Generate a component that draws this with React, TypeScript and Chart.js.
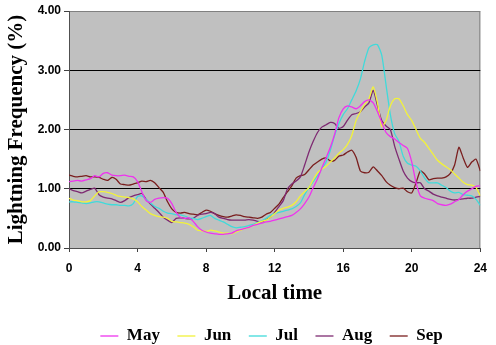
import React, { useEffect, useRef } from "react";
import { Chart, registerables } from "chart.js";

Chart.register(...registerables);

const hours: number[] = [
  0, 0.25, 0.5, 0.75, 1, 1.25, 1.5, 1.75, 2, 2.25, 2.5, 2.75, 3, 3.25, 3.5, 3.75,
  4, 4.25, 4.5, 4.75, 5, 5.25, 5.5, 5.75, 6, 6.25, 6.5, 6.75, 7, 7.25, 7.5, 7.75,
  8, 8.25, 8.5, 8.75, 9, 9.25, 9.5, 9.75, 10, 10.25, 10.5, 10.75, 11, 11.25, 11.5, 11.75,
  12, 12.25, 12.5, 12.75, 13, 13.25, 13.5, 13.75, 14, 14.25, 14.5, 14.75, 15, 15.25, 15.5, 15.75,
  16, 16.25, 16.5, 16.75, 17, 17.25, 17.5, 17.75, 18, 18.25, 18.5, 18.75, 19, 19.25, 19.5, 19.75,
  20, 20.25, 20.5, 20.75, 21, 21.25, 21.5, 21.75, 22, 22.25, 22.5, 22.75, 23, 23.25, 23.5, 23.75,
  24,
];

const may: number[] = [
  1.12, 1.13, 1.14, 1.13, 1.15, 1.17, 1.22, 1.2, 1.26, 1.27, 1.23, 1.22, 1.22, 1.23, 1.21, 1.2,
  1.12, 0.95, 0.8, 0.77, 0.82, 0.84, 0.85, 0.84, 0.75, 0.6, 0.52, 0.5, 0.51, 0.45, 0.36, 0.3,
  0.27, 0.25, 0.24, 0.23, 0.23, 0.24, 0.25, 0.29, 0.31, 0.33, 0.35, 0.38, 0.4, 0.42, 0.44, 0.45,
  0.47, 0.49, 0.51, 0.53, 0.55, 0.6, 0.66, 0.75, 0.86, 1.02, 1.17, 1.35, 1.52, 1.7, 1.92, 2.2,
  2.35, 2.4, 2.38, 2.35, 2.4, 2.47, 2.5, 2.45, 2.3, 2.12, 1.95, 1.88, 1.84, 1.78, 1.73, 1.68,
  1.45, 1.1, 0.88, 0.84, 0.82, 0.8, 0.75, 0.73, 0.72, 0.74, 0.78, 0.82, 0.9, 0.96, 1.0, 1.04,
  1.05,
];

const jun: number[] = [
  0.84, 0.81, 0.8, 0.78, 0.78, 0.8, 0.88, 0.95, 0.95, 0.94, 0.92, 0.89, 0.87, 0.86, 0.85, 0.83,
  0.78, 0.7, 0.64, 0.58, 0.55, 0.53, 0.52, 0.5, 0.45, 0.44, 0.43, 0.42, 0.4, 0.36, 0.3, 0.29,
  0.28, 0.3, 0.29, 0.27, 0.25, 0.25, 0.24, 0.27, 0.3, 0.33, 0.35, 0.38, 0.42, 0.45, 0.47, 0.52,
  0.58, 0.64, 0.67, 0.69, 0.72, 0.78, 0.88, 0.95, 1.02, 1.15, 1.27, 1.33, 1.38, 1.45, 1.52, 1.6,
  1.66, 1.75, 1.9, 2.15, 2.3, 2.42, 2.52, 2.72, 2.45, 2.05, 2.15, 2.4, 2.52, 2.52, 2.4, 2.25,
  2.15, 2.0, 1.85, 1.78, 1.68, 1.58, 1.48, 1.42, 1.37, 1.32, 1.25, 1.18, 1.11, 1.07, 1.06, 1.02,
  0.88,
];

const jul: number[] = [
  0.78, 0.78, 0.77, 0.76, 0.75, 0.76, 0.78, 0.78, 0.76, 0.74, 0.73, 0.73, 0.72, 0.72, 0.71, 0.75,
  0.87, 0.88, 0.82, 0.76, 0.7, 0.67, 0.62, 0.59, 0.58, 0.56, 0.56, 0.54, 0.51, 0.5, 0.48, 0.5,
  0.53, 0.55, 0.5, 0.47, 0.44, 0.4, 0.36, 0.34, 0.35, 0.36, 0.38, 0.4, 0.43, 0.46, 0.5, 0.55,
  0.58, 0.6, 0.62, 0.64, 0.66, 0.7, 0.76, 0.9, 1.02, 1.12, 1.22, 1.33, 1.45, 1.65, 1.9, 2.1,
  2.25, 2.35, 2.5, 2.65, 2.85, 3.15, 3.38, 3.43, 3.43, 3.25, 2.75, 2.25, 1.93, 1.8, 1.55, 1.43,
  1.4, 1.38, 1.3, 1.18, 1.1, 1.1, 1.1, 1.06, 1.02, 0.96, 0.93, 0.94, 0.9, 0.89, 0.88, 0.82,
  0.72,
];

const aug: number[] = [
  1.0, 0.97, 0.95, 0.93, 0.96, 0.99, 1.01, 0.9, 0.86, 0.84, 0.83, 0.8, 0.77, 0.8, 0.85, 0.88,
  0.9, 0.92, 0.82, 0.74, 0.67, 0.6, 0.52, 0.47, 0.43, 0.5, 0.51, 0.5, 0.49, 0.5, 0.55, 0.57,
  0.58, 0.6, 0.58, 0.52, 0.5, 0.48, 0.47, 0.47, 0.47, 0.47, 0.48, 0.47, 0.45, 0.44, 0.48, 0.52,
  0.6, 0.7, 0.8, 1.0, 1.08, 1.13, 1.2, 1.4, 1.62, 1.8, 1.95, 2.04, 2.08, 2.12, 2.1, 2.02,
  2.05, 2.16, 2.25, 2.27, 2.3, 2.38, 2.45, 2.66, 2.4, 2.15, 2.06, 2.0, 1.72, 1.5, 1.3, 1.18,
  1.12, 1.1, 1.1, 1.0, 0.96, 0.91, 0.88, 0.86, 0.84, 0.82, 0.81, 0.82, 0.83, 0.84, 0.84, 0.86,
  0.87,
];

const sep: number[] = [
  1.23, 1.21, 1.2, 1.21, 1.22, 1.2, 1.2, 1.19, 1.16, 1.14, 1.19, 1.16, 1.08, 1.07, 1.06, 1.08,
  1.1, 1.13, 1.12, 1.14, 1.1, 1.02, 0.94, 0.78, 0.66, 0.6, 0.59, 0.6, 0.58, 0.57, 0.56, 0.6,
  0.64, 0.62, 0.58, 0.55, 0.53, 0.52, 0.54, 0.56, 0.55, 0.53, 0.52, 0.51, 0.5, 0.52, 0.57, 0.6,
  0.67, 0.74, 0.85, 0.95, 1.05, 1.18, 1.22, 1.24, 1.32, 1.4, 1.45, 1.5, 1.52, 1.47, 1.48, 1.55,
  1.57, 1.62, 1.65, 1.53, 1.3, 1.27, 1.28, 1.37, 1.3, 1.22, 1.12, 1.06, 1.02, 1.0, 1.01, 0.95,
  0.93, 1.1, 1.3, 1.25, 1.15, 1.17, 1.18, 1.18, 1.2, 1.26, 1.4, 1.7, 1.52, 1.36, 1.45, 1.5,
  1.3,
];

const seriesNames: string[] = ["May", "Jun", "Jul", "Aug", "Sep"];
const seriesColors: string[] = ["#EE33EE", "#F2F23A", "#40DADA", "#7E2A72", "#7A1E1E"];
const seriesValues: number[][] = [may, jun, jul, aug, sep];

const xTicks: number[] = [0, 4, 8, 12, 16, 20, 24];
const yTicks: number[] = [0, 1, 2, 3, 4];

const LEGEND_DX = 26;

export default function App() {
  const canvasRef = useRef<HTMLCanvasElement | null>(null);

  useEffect(() => {
    const canvas = canvasRef.current;
    if (!canvas) return;

    const plotBg = {
      id: "plotBg",
      beforeDraw(chart: any) {
        const { ctx, chartArea: a } = chart;
        ctx.save();
        ctx.fillStyle = "#C0C0C0";
        ctx.fillRect(a.left, a.top, a.right - a.left, a.bottom - a.top);
        ctx.strokeStyle = "#808080";
        ctx.lineWidth = 1;
        ctx.beginPath();
        ctx.moveTo(a.left, a.top + 0.5);
        ctx.lineTo(a.right - 0.5, a.top + 0.5);
        ctx.lineTo(a.right - 0.5, a.bottom);
        ctx.stroke();
        ctx.restore();
      },
      afterLayout(chart: any) {
        const lg = chart.legend;
        if (lg) {
          lg.left += LEGEND_DX;
          lg.right += LEGEND_DX;
        }
      },
    };

    const chart = new Chart(canvas, {
      type: "line",
      data: {
        datasets: seriesNames.map((name, si) => ({
          label: name,
          data: hours.map((h, i) => ({ x: h, y: seriesValues[si][i] })),
          borderColor: seriesColors[si],
          backgroundColor: seriesColors[si],
          borderWidth: 1.3,
          pointRadius: 0,
          tension: 0.2,
          fill: false,
        })),
      },
      options: {
        animation: false,
        responsive: false,
        maintainAspectRatio: false,
        layout: { padding: { top: 11, right: 5, left: 0, bottom: 0 } },
        plugins: {
          tooltip: { enabled: false },
          legend: {
            position: "bottom",
            maxHeight: 35,
            labels: {
              usePointStyle: true,
              pointStyle: "line",
              pointStyleWidth: 18,
              padding: 17.5,
              color: "#000",
              font: { family: "'Liberation Serif', 'Times New Roman', serif", size: 17, weight: "bold" },
            },
          },
        },
        scales: {
          x: {
            type: "linear",
            min: 0,
            max: 24,
            afterFit: (s: any) => {
              s.height = 62;
            },
            afterBuildTicks: (s: any) => {
              s.ticks = xTicks.map((v) => ({ value: v }));
            },
            ticks: {
              padding: 9,
              color: "#000",
              maxRotation: 0,
              font: { family: "'Liberation Sans', Arial, sans-serif", size: 12, weight: "bold" },
            },
            grid: {
              drawOnChartArea: false,
              drawTicks: true,
              tickLength: 4,
              color: "#404040",
            },
            border: { display: true, color: "#505050", width: 1 },
            title: {
              display: true,
              text: "Local time",
              color: "#000",
              font: { family: "'Liberation Serif', 'Times New Roman', serif", size: 21, weight: "bold" },
            },
          },
          y: {
            min: 0,
            max: 4,
            afterFit: (s: any) => {
              s.width = 69;
            },
            afterBuildTicks: (s: any) => {
              s.ticks = yTicks.map((v) => ({ value: v }));
            },
            ticks: {
              padding: 3,
              color: "#000",
              callback: (v: any) => Number(v).toFixed(2),
              font: { family: "'Liberation Sans', Arial, sans-serif", size: 12, weight: "bold" },
            },
            grid: {
              drawOnChartArea: true,
              drawTicks: true,
              tickLength: 5,
              color: (c: any) => (c.tick && (c.tick.value === 0 || c.tick.value === 4) ? "#808080" : "#000000"),
              tickColor: "#404040",
              lineWidth: 1,
            },
            border: { display: true, color: "#505050", width: 1 },
            title: {
              display: true,
              text: "Lightning Frequency (%)",
              color: "#000",
              font: { family: "'Liberation Serif', 'Times New Roman', serif", size: 21, weight: "bold" },
            },
          },
        },
      },
      plugins: [plotBg],
    } as any);

    return () => {
      chart.destroy();
    };
  }, []);

  return (
    <div style={{ position: "fixed", left: 0, top: 0, width: 496, height: 345, background: "#fff" }}>
      <canvas ref={canvasRef} width={496} height={345} style={{ display: "block" }} />
    </div>
  );
}
